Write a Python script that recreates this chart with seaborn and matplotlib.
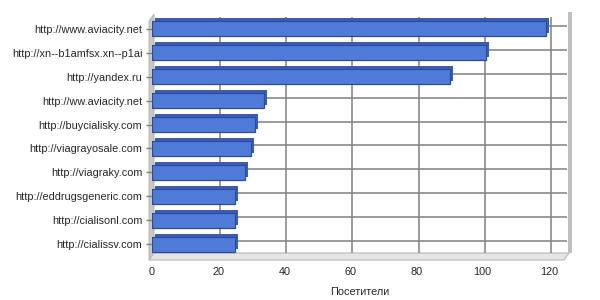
import matplotlib
matplotlib.use("Agg")
import matplotlib.pyplot as plt
import matplotlib.transforms as mtransforms
from matplotlib.patches import Polygon
import seaborn as sns
import pandas as pd

sites = [
    "http://www.aviacity.net",
    "http://xn--b1amfsx.xn--p1ai",
    "http://yandex.ru",
    "http://ww.aviacity.net",
    "http://buycialisky.com",
    "http://viagrayosale.com",
    "http://viagraky.com",
    "http://eddrugsgeneric.com",
    "http://cialisonl.com",
    "http://cialissv.com",
]
visitors = [119, 101, 90, 34, 31, 30, 28, 25, 25, 25]
x_ticks = [0, 20, 40, 60, 80, 100, 120]
x_label = "Посетители"

df = pd.DataFrame({"site": sites, "visitors": visitors})

sns.set_style("white")
plt.rcParams["font.family"] = ["Liberation Sans", "DejaVu Sans"]

fig = plt.figure(figsize=(6, 3), dpi=100)
ax = fig.add_axes([152 / 600, 1 - 256 / 300, 415 / 600, 239 / 300])

FACE = "#507BD8"
SIDE = "#3C5DAE"
EDGE = "#2E4C9A"
GRID = "#808080"
WALL = "#C8C8C8"
FS = 7.8

back = mtransforms.offset_copy(ax.transData, fig=fig, x=2, y=3, units="dots")
depth = mtransforms.offset_copy(ax.transData, fig=fig, x=3, y=3, units="dots")

# depth (3D side) bars
sns.barplot(data=df, x="visitors", y="site", orient="h", color=SIDE,
            width=0.63, saturation=1, ax=ax, linewidth=0, zorder=3)
n = len(ax.patches)
for p in ax.patches[:n]:
    p.set_transform(depth)
# front bars
sns.barplot(data=df, x="visitors", y="site", orient="h", color=FACE,
            width=0.63, saturation=1, ax=ax, edgecolor=EDGE, linewidth=0.9,
            zorder=4)

xmax = 125.5
ax.set_xlim(0, xmax)
ax.set_ylim(len(sites) - 0.5, -0.5)

# back-wall gridlines
ax.vlines(x_ticks[1:], len(sites) - 0.5, -0.5, colors=GRID, linewidth=1.1,
          transform=back, zorder=1)
ax.hlines(range(len(sites)), 0, xmax, colors=GRID, linewidth=1.1,
          transform=back, zorder=1)
# back wall top border
ax.hlines([-0.5], 0, xmax, colors="#D8D8D8", linewidth=2, transform=back,
          zorder=1)

# walls in axes-fraction space
px = 1 / 415
py = 1 / 239
left_wall = Polygon([(-3 * px, -4 * py), (-3 * px, 1 - 4 * py),
                     (2 * px, 1 + 3 * py), (2 * px, 3 * py)],
                    closed=True, transform=ax.transAxes, facecolor=WALL,
                    edgecolor="#B0B0B0", linewidth=0.6, clip_on=False,
                    zorder=0)
floor = Polygon([(-3 * px, -4 * py), (1 - 3 * px, -4 * py),
                 (1 + 2 * px, 3 * py), (2 * px, 3 * py)],
                closed=True, transform=ax.transAxes, facecolor="#E4E4E4",
                edgecolor="#B8B8B8", linewidth=0.8, clip_on=False, zorder=0)
right_wall = Polygon([(1 + 1 * px, 3 * py), (1 + 5 * px, 3 * py),
                      (1 + 5 * px, 1 + 5 * py), (1 + 1 * px, 1 + 5 * py)],
                     closed=True, transform=ax.transAxes, facecolor="#C0C0C0",
                     edgecolor="none", clip_on=False, zorder=0)
for patch in (left_wall, floor, right_wall):
    ax.add_patch(patch)

for s in ax.spines.values():
    s.set_visible(False)

ax.set_xticks(x_ticks)
ax.set_xticklabels([str(t) for t in x_ticks])
ax.tick_params(axis="x", length=4, color=GRID, width=1, pad=4, labelsize=FS,
               direction="out")
ax.tick_params(axis="y", length=4, color=GRID, width=1, pad=3, labelsize=FS,
               left=True)
ax.set_ylabel("")
ax.set_xlabel(x_label, fontsize=FS, labelpad=7)

fig.savefig("out.png", dpi=100, facecolor="white")
